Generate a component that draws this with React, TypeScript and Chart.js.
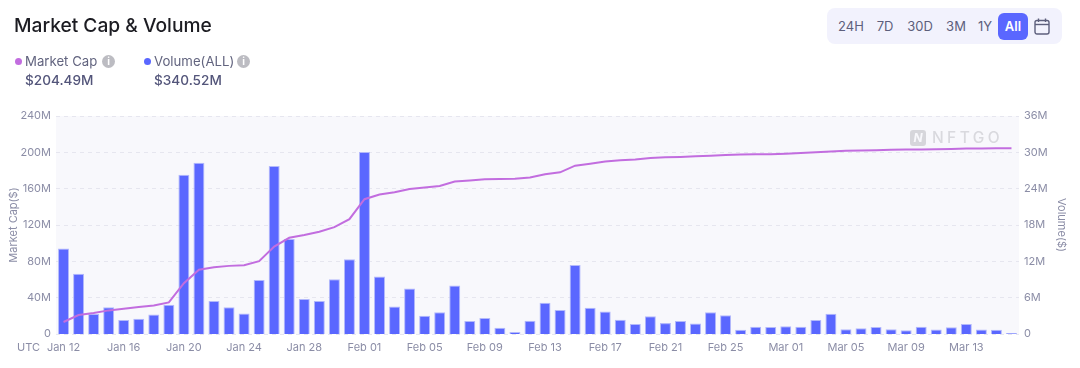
import React, { useEffect, useRef } from "react";
import { Chart, registerables } from "chart.js";

Chart.register(...registerables);

const dates = [
  "Jan 12","Jan 13","Jan 14","Jan 15","Jan 16","Jan 17","Jan 18","Jan 19","Jan 20","Jan 21","Jan 22","Jan 23","Jan 24","Jan 25","Jan 26","Jan 27","Jan 28","Jan 29","Jan 30","Jan 31",
  "Feb 01","Feb 02","Feb 03","Feb 04","Feb 05","Feb 06","Feb 07","Feb 08","Feb 09","Feb 10","Feb 11","Feb 12","Feb 13","Feb 14","Feb 15","Feb 16","Feb 17","Feb 18","Feb 19","Feb 20","Feb 21","Feb 22","Feb 23","Feb 24","Feb 25","Feb 26","Feb 27","Feb 28",
  "Mar 01","Mar 02","Mar 03","Mar 04","Mar 05","Mar 06","Mar 07","Mar 08","Mar 09","Mar 10","Mar 11","Mar 12","Mar 13","Mar 14","Mar 15","Mar 16",
];

const volume = [
  14.1,9.95,3.3,4.4,2.3,2.5,3.2,4.85,26.3,28.3,5.45,4.4,3.4,8.9,27.75,15.7,5.8,5.45,9.05,12.35,
  30.05,9.5,4.55,7.5,3.0,3.6,8.0,2.15,2.65,1.05,0.35,2.2,5.15,3.95,11.4,4.35,3.7,2.35,1.65,2.95,1.8,2.15,1.75,3.6,3.1,0.7,1.2,1.15,
  1.3,1.2,2.3,3.35,0.8,0.95,1.15,0.8,0.6,1.2,0.75,1.1,1.65,0.75,0.7,0.15,
];

const marketCap = [
  13.2,20.9,23,26,27.8,29.7,31.5,34.8,56,70.7,73.6,75,75.8,80.2,96.3,105.9,109,112.5,117.6,126.4,
  148.4,153.5,156,159.7,161.2,163,167.8,168.9,170.3,170.7,171,172.2,175.8,178,185.3,187.5,190,191.2,192,193.8,194.5,194.9,195.6,196.3,197,197.5,197.8,198,
  198.5,199.2,200,201,201.8,202,202.4,202.8,203,203.2,203.5,203.8,204.1,204.3,204.4,204.5,
];

const ranges = [
  { label: "24H", x: 851 },
  { label: "7D", x: 885 },
  { label: "30D", x: 920 },
  { label: "3M", x: 956 },
  { label: "1Y", x: 985 },
];

const FONT = "Inter, sans-serif";
const TICK = "#8b8da6";

const plotBackground = {
  id: "plotBackground",
  beforeDraw(chart: any) {
    const { ctx, chartArea: a } = chart;
    ctx.save();
    ctx.fillStyle = "#f8f8fc";
    ctx.fillRect(a.left, a.top, a.right - a.left, a.bottom - a.top);
    ctx.restore();
  },
  beforeDatasetsDraw(chart: any) {
    const { ctx, chartArea: a } = chart;
    const ix = a.right - 109;
    const iy = a.top + 14;
    ctx.save();
    ctx.fillStyle = "#d6d6db";
    ctx.beginPath();
    ctx.roundRect(ix, iy, 16, 16, 3);
    ctx.fill();
    ctx.fillStyle = "#f8f8fc";
    ctx.font = `italic 700 12px ${FONT}`;
    ctx.textAlign = "center";
    ctx.textBaseline = "middle";
    ctx.fillText("N", ix + 8, iy + 8.5);
    ctx.fillStyle = "#d9d9de";
    ctx.font = `500 15.5px ${FONT}`;
    ctx.textAlign = "left";
    (ctx as any).letterSpacing = "3.4px";
    ctx.fillText("NFTGO", ix + 22, iy + 8.5);
    ctx.restore();
  },
};

const abs = (x: number, y: number, extra: React.CSSProperties = {}): React.CSSProperties => ({
  position: "absolute",
  left: x,
  top: y,
  whiteSpace: "nowrap",
  lineHeight: 1,
  fontFamily: FONT,
  ...extra,
});

function Info({ x }: { x: number }) {
  return (
    <span
      style={abs(x, 55, {
        width: 13,
        height: 13,
        borderRadius: "50%",
        background: "#bcbcc2",
        color: "#fff",
        fontSize: 10,
        fontWeight: 700,
        textAlign: "center",
        lineHeight: "13px",
      })}
    >
      i
    </span>
  );
}

export default function App() {
  const ref = useRef<HTMLCanvasElement>(null);

  useEffect(() => {
    const chart = new Chart(ref.current as HTMLCanvasElement, {
      type: "bar",
      data: {
        labels: dates,
        datasets: [
          {
            type: "line",
            label: "Market Cap",
            data: marketCap,
            yAxisID: "y",
            borderColor: "#c26ddf",
            borderWidth: 2,
            pointRadius: 0,
            tension: 0,
            order: 0,
          },
          {
            type: "bar",
            label: "Volume(ALL)",
            data: volume,
            yAxisID: "y1",
            backgroundColor: "#5a67ff",
            borderColor: "#b3b9fb",
            borderWidth: 1,
            barPercentage: 0.73,
            categoryPercentage: 1,
            order: 1,
          },
        ],
      } as any,
      options: {
        animation: false,
        responsive: false,
        layout: { padding: { top: 116, left: 0, right: 0, bottom: 0 } },
        plugins: { legend: { display: false }, tooltip: { enabled: false } },
        scales: {
          x: {
            grid: { display: false, drawTicks: false },
            border: { display: false },
            afterFit: (s: any) => { s.height = 34; },
            ticks: {
              autoSkip: false,
              maxRotation: 0,
              padding: 7,
              color: TICK,
              font: { family: FONT, size: 11 },
              callback: (_v: any, i: number) => (i % 4 === 0 ? dates[i] : ""),
            },
          },
          y: {
            position: "left",
            min: 0,
            max: 240,
            afterFit: (s: any) => { s.width = 56; },
            border: { display: false, dash: [4, 4] },
            grid: { color: "#e6e6ef", drawTicks: false },
            ticks: {
              stepSize: 40,
              padding: 5,
              color: TICK,
              font: { family: FONT, size: 11 },
              callback: (v: any) => (v === 0 ? "0" : `${v}M`),
            },
            title: {
              display: true,
              text: "Market Cap($)",
              color: TICK,
              font: { family: FONT, size: 11 },
              padding: { top: 7, bottom: 0 },
            },
          },
          y1: {
            position: "right",
            min: 0,
            max: 36,
            afterFit: (s: any) => { s.width = 61; },
            border: { display: false },
            grid: { display: false, drawTicks: false },
            ticks: {
              stepSize: 6,
              padding: 5,
              color: TICK,
              font: { family: FONT, size: 11 },
              callback: (v: any) => (v === 0 ? "0" : `${v}M`),
            },
            title: {
              display: true,
              text: "Volume($)",
              color: TICK,
              font: { family: FONT, size: 11 },
              padding: { top: 12, bottom: 0 },
            },
          },
        },
      },
      plugins: [plotBackground],
    } as any);
    return () => chart.destroy();
  }, []);

  return (
    <div style={{ position: "fixed", left: 0, top: 0, width: 1080, height: 368, background: "#fff", overflow: "hidden" }}>
      <canvas ref={ref} width={1080} height={368} style={{ position: "absolute", left: 0, top: 0, display: "block" }} />

      <div style={abs(14, 16, { fontSize: 19.2, fontWeight: 500, color: "#1c1c22" })}>Market Cap &amp; Volume</div>

      <span style={abs(15, 58, { width: 7, height: 7, borderRadius: "50%", background: "#c26ddf" })} />
      <div style={abs(25, 55, { fontSize: 13.2, color: "#62647f" })}>Market Cap</div>
      <Info x={102} />
      <div style={abs(25, 74, { fontSize: 13.6, fontWeight: 500, color: "#53557a" })}>$204.49M</div>

      <span style={abs(144, 58, { width: 7, height: 7, borderRadius: "50%", background: "#5a67ff" })} />
      <div style={abs(154, 55, { fontSize: 13.2, color: "#62647f" })}>Volume(ALL)</div>
      <Info x={237} />
      <div style={abs(154, 74, { fontSize: 13.6, fontWeight: 500, color: "#53557a" })}>$340.52M</div>

      <div style={abs(827, 8, { width: 235, height: 36, borderRadius: 8, background: "#f2f2fd" })} />
      {ranges.map((r) => (
        <div key={r.label} style={abs(r.x, 20, { transform: "translateX(-50%)", fontSize: 13, fontWeight: 400, color: "#5d5f7c" })}>
          {r.label}
        </div>
      ))}
      <div style={abs(998, 13, { width: 30, height: 27, borderRadius: 6, background: "#5a67ff" })} />
      <div style={abs(1013, 20, { transform: "translateX(-50%)", fontSize: 13, fontWeight: 600, color: "#fff" })}>All</div>
      <svg width="16" height="17" viewBox="0 0 16 17" style={{ position: "absolute", left: 1034, top: 18 }} fill="none" stroke="#5d5f7c" strokeWidth="1.4">
        <rect x="1" y="2.5" width="14" height="13.5" rx="2" />
        <line x1="1" y1="6.5" x2="15" y2="6.5" />
        <line x1="4.5" y1="0.5" x2="4.5" y2="4" />
        <line x1="11.5" y1="0.5" x2="11.5" y2="4" />
      </svg>

      <div style={abs(17, 342, { fontSize: 11, color: TICK })}>UTC</div>
    </div>
  );
}
